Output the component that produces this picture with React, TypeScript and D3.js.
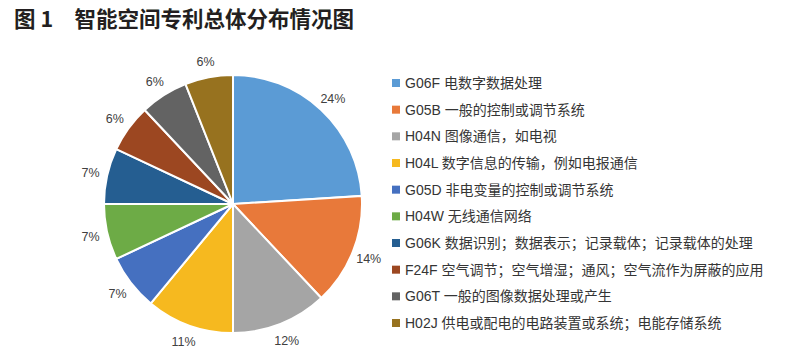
import React from "react";
import * as d3 from "d3";

const categories = [
  "G06F 电数字数据处理",
  "G05B 一般的控制或调节系统",
  "H04N 图像通信，如电视",
  "H04L 数字信息的传输，例如电报通信",
  "G05D 非电变量的控制或调节系统",
  "H04W 无线通信网络",
  "G06K 数据识别；数据表示；记录载体；记录载体的处理",
  "F24F 空气调节；空气增湿；通风；空气流作为屏蔽的应用",
  "G06T 一般的图像数据处理或产生",
  "H02J 供电或配电的电路装置或系统；电能存储系统",
];
const values = [24, 14, 12, 11, 7, 7, 7, 6, 6, 6];
const colors = [
  "#5b9bd5", "#e8793a", "#a5a5a5", "#f6b91f", "#4570c0",
  "#6dab46", "#255e91", "#9c4721", "#636363", "#97721f",
];
const title = "图 1　智能空间专利总体分布情况图";

export default function App() {
  const W = 800, H = 363;
  const cx = 233, cy = 204, r = 129;
  const pie = d3.pie<number>().sort(null).value((d) => d);
  const arcs = pie(values);
  const arc = d3.arc<d3.PieArcDatum<number>>().innerRadius(0).outerRadius(r);
  const labelArc = d3.arc<d3.PieArcDatum<number>>().innerRadius(146).outerRadius(146);
  const legendY = d3.scaleLinear().domain([0, categories.length - 1]).range([83, 323]);
  const fmt = d3.format(".0%");
  const total = d3.sum(values);
  return (
    <svg width={W} height={H} style={{ position: "absolute", left: 0, top: 0, background: "#fff" }}>
      <text x={14} y={27} fontSize={21.5} fontWeight="bold" fill="#231f20"
        fontFamily="'Noto Sans CJK SC', sans-serif">{title}</text>
      <g transform={`translate(${cx},${cy})`}>
        {arcs.map((a, i) => (
          <path key={i} d={arc(a) || ""} fill={colors[i]} stroke="#fff" strokeWidth={2} />
        ))}
        {arcs.map((a, i) => {
          const [x, y] = labelArc.centroid(a);
          return (
            <text key={"l" + i} x={x} y={y + 1} textAnchor="middle" dominantBaseline="central"
              fontSize={12.5} fill="#404040" fontFamily="'Liberation Sans', Arial, sans-serif">
              {fmt(values[i] / total)}
            </text>
          );
        })}
      </g>
      {categories.map((c, i) => (
        <g key={"g" + i}>
          <rect x={392} y={legendY(i) - 4} width={8} height={8} fill={colors[i]} />
          <text x={405} y={legendY(i)} dominantBaseline="central" fontSize={14} fill="#353535"
            fontFamily="'Liberation Sans', 'Noto Sans CJK SC', sans-serif">{c}</text>
        </g>
      ))}
    </svg>
  );
}
